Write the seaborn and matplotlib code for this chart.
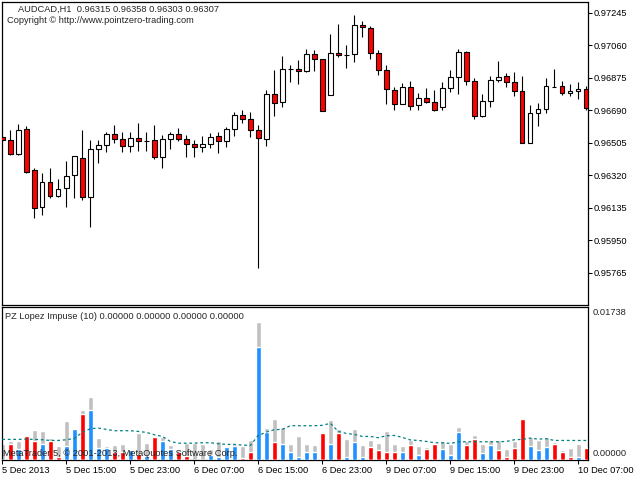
import matplotlib
matplotlib.use("Agg")
import matplotlib.pyplot as plt
import seaborn as sns
import numpy as np
import pandas as pd

# ---------------- data ----------------
opens = [0.96538, 0.96520, 0.96442, 0.96584, 0.96349, 0.96139, 0.96281, 0.96205, 0.96247, 0.96321,
         0.96417, 0.96199, 0.96468, 0.96491, 0.96554, 0.96525, 0.96486, 0.96533, 0.96518, 0.96520,
         0.96423, 0.96525, 0.96554, 0.96525, 0.96497, 0.96480, 0.96497, 0.96542, 0.96514, 0.96582,
         0.96663, 0.96641, 0.96578, 0.96525, 0.96781, 0.96736, 0.96923, 0.96923, 0.96912, 0.97010,
         0.96980, 0.96775, 0.97014, 0.97006, 0.97009, 0.97173, 0.97156, 0.97014, 0.96918, 0.96804,
         0.96724, 0.96821, 0.96719, 0.96758, 0.96736, 0.96707, 0.96815, 0.96878, 0.97020, 0.96855,
         0.96656, 0.96741, 0.96861, 0.96883, 0.96849, 0.96798, 0.96503, 0.96673, 0.96696, 0.96825,
         0.96827, 0.96787, 0.96798, 0.96810]
highs = [0.96550, 0.96578, 0.96612, 0.96601, 0.96360, 0.96334, 0.96360, 0.96300, 0.96402, 0.96430,
         0.96578, 0.96521, 0.96521, 0.96567, 0.96607, 0.96567, 0.96567, 0.96618, 0.96567, 0.96607,
         0.96550, 0.96567, 0.96590, 0.96550, 0.96521, 0.96544, 0.96561, 0.96567, 0.96595, 0.96679,
         0.96692, 0.96681, 0.96607, 0.96806, 0.96919, 0.96999, 0.96948, 0.96976, 0.97039, 0.97033,
         0.96982, 0.97126, 0.97181, 0.97061, 0.97232, 0.97198, 0.97169, 0.97033, 0.96948, 0.96821,
         0.96847, 0.96857, 0.96787, 0.96815, 0.96806, 0.96849, 0.96919, 0.97037, 0.97027, 0.96872,
         0.96781, 0.96885, 0.96970, 0.96902, 0.96908, 0.96883, 0.96719, 0.96730, 0.96872, 0.96923,
         0.96855, 0.96838, 0.96849, 0.96827]
lows = [0.96510, 0.96436, 0.96436, 0.96335, 0.96080, 0.96095, 0.96193, 0.96199, 0.96142, 0.96193,
        0.96180, 0.96028, 0.96389, 0.96455, 0.96503, 0.96455, 0.96455, 0.96461, 0.96461, 0.96412,
        0.96360, 0.96468, 0.96514, 0.96423, 0.96423, 0.96451, 0.96474, 0.96449, 0.96480, 0.96542,
        0.96616, 0.96537, 0.95794, 0.96489, 0.96659, 0.96711, 0.96853, 0.96838, 0.96906, 0.96912,
        0.96684, 0.96775, 0.96991, 0.96932, 0.96966, 0.97109, 0.96983, 0.96889, 0.96728, 0.96690,
        0.96724, 0.96690, 0.96692, 0.96730, 0.96684, 0.96690, 0.96794, 0.96781, 0.96836, 0.96639,
        0.96650, 0.96711, 0.96851, 0.96824, 0.96773, 0.96503, 0.96503, 0.96603, 0.96673, 0.96821,
        0.96775, 0.96770, 0.96753, 0.96692]
closes = [0.96521, 0.96442, 0.96578, 0.96341, 0.96133, 0.96281, 0.96205, 0.96241, 0.96315, 0.96429,
          0.96199, 0.96468, 0.96491, 0.96554, 0.96525, 0.96486, 0.96533, 0.96514, 0.96518, 0.96423,
          0.96525, 0.96554, 0.96525, 0.96497, 0.96480, 0.96497, 0.96537, 0.96514, 0.96582, 0.96663,
          0.96639, 0.96576, 0.96531, 0.96781, 0.96730, 0.96923, 0.96923, 0.96912, 0.97010, 0.96980,
          0.96684, 0.97014, 0.97003, 0.97006, 0.97173, 0.97162, 0.97014, 0.96918, 0.96810, 0.96724,
          0.96821, 0.96713, 0.96758, 0.96736, 0.96690, 0.96815, 0.96878, 0.97020, 0.96855, 0.96656,
          0.96741, 0.96861, 0.96878, 0.96849, 0.96798, 0.96503, 0.96673, 0.96696, 0.96827, 0.96825,
          0.96787, 0.96798, 0.96810, 0.96702]

impulse_total = [0.00172, 0.00209, 0.00209, 0.00278, 0.00335, 0.00324, 0.00240, 0.00152, 0.00438, 0.00343,
                 0.00560, 0.00709, 0.00240, 0.00149, 0.00160, 0.00172, 0.00114, 0.00301, 0.00186, 0.00266,
                 0.00255, 0.00160, 0.00103, 0.00183, 0.00186, 0.00172, 0.00114, 0.00206, 0.00149, 0.00180,
                 0.00157, 0.00217, 0.01566, 0.00362, 0.00457, 0.00369, 0.00172, 0.00263, 0.00172, 0.00160,
                 0.00297, 0.00446, 0.00343, 0.00229, 0.00343, 0.00160, 0.00217, 0.00183, 0.00320, 0.00172,
                 0.00149, 0.00217, 0.00149, 0.00137, 0.00183, 0.00206, 0.00172, 0.00366, 0.00206, 0.00274,
                 0.00172, 0.00217, 0.00217, 0.00114, 0.00206, 0.00457, 0.00252, 0.00217, 0.00252, 0.00194,
                 0.00103, 0.00126, 0.00172, 0.00137]
impulse_up = [0, 0, 0.00122, 0, 0, 0.00175, 0, 0, 0.00149, 0.00343,
              0, 0.00560, 0.00129, 0.00129, 0, 0, 0.00103, 0, 0.00038, 0,
              0.00209, 0.00114, 0, 0, 0, 0, 0.00046, 0.00026, 0.00137, 0.00149,
              0, 0, 0.01281, 0.00309, 0, 0.00172, 0.00091, 0.00023, 0.00080, 0.00080,
              0, 0.00172, 0, 0.00034, 0.00194, 0.00023, 0, 0, 0, 0,
              0.00091, 0, 0.00046, 0, 0, 0.00114, 0.00046, 0.00309, 0, 0,
              0.00069, 0.00160, 0, 0, 0, 0, 0.00149, 0.00103, 0.00137, 0,
              0, 0, 0.00034, 0]
impulse_down = [0, 0.00175, 0, 0.00266, 0.00209, 0, 0.00209, 0.00026, 0, 0,
                0.00518, 0, 0, 0, 0.00083, 0.00083, 0, 0.00065, 0, 0.00252,
                0, 0, 0.00080, 0.00038, 0, 0, 0, 0, 0, 0,
                0.00015, 0.00091, 0, 0, 0.00194, 0, 0, 0, 0, 0,
                0.00297, 0, 0.00305, 0, 0, 0, 0.00137, 0.00103, 0.00080, 0.00080,
                0, 0.00160, 0, 0.00114, 0.00175, 0, 0, 0, 0.00160, 0.00229,
                0, 0, 0.00103, 0.00023, 0.00126, 0.00457, 0, 0, 0, 0.00172,
                0.00080, 0.00034, 0, 0.00126]
signal = [0.00229, 0.00229, 0.00229, 0.00232, 0.00229, 0.00225, 0.00217, 0.00217, 0.00225, 0.00240,
          0.00309, 0.00351, 0.00358, 0.00343, 0.00328, 0.00328, 0.00328, 0.00320, 0.00309, 0.00282,
          0.00263, 0.00206, 0.00186, 0.00186, 0.00186, 0.00191, 0.00191, 0.00180, 0.00172, 0.00172,
          0.00164, 0.00160, 0.00274, 0.00312, 0.00340, 0.00343, 0.00385, 0.00385, 0.00385, 0.00385,
          0.00389, 0.00412, 0.00320, 0.00297, 0.00286, 0.00263, 0.00263, 0.00248, 0.00271, 0.00274,
          0.00252, 0.00223, 0.00217, 0.00206, 0.00191, 0.00191, 0.00183, 0.00202, 0.00202, 0.00202,
          0.00202, 0.00202, 0.00202, 0.00206, 0.00225, 0.00229, 0.00244, 0.00232, 0.00237, 0.00217,
          0.00217, 0.00217, 0.00217, 0.00217]

price_ticks = [0.97245, 0.97060, 0.96875, 0.96690, 0.96505, 0.96320, 0.96135, 0.95950, 0.95765]
time_tick_bars = [0, 8, 16, 24, 32, 40, 48, 56, 64, 72]
time_tick_labels = ["5 Dec 2013", "5 Dec 15:00", "5 Dec 23:00", "6 Dec 07:00", "6 Dec 15:00",
                    "6 Dec 23:00", "9 Dec 07:00", "9 Dec 15:00", "9 Dec 23:00", "10 Dec 07:00"]
impulse_top = 0.01738

# ---------------- figure ----------------
sns.set_style("white")
plt.rcParams["font.family"] = ["Liberation Sans", "DejaVu Sans"]
FS = 6.7

W, H = 640, 480
fig = plt.figure(figsize=(6.4, 4.8), dpi=100)
fig.patch.set_facecolor("white")


def box(l, t, r, b):
    return [l / W, 1 - b / H, (r - l) / W, (b - t) / H]


ax1 = fig.add_axes(box(2, 2, 587.5, 305))
ax2 = fig.add_axes(box(2, 307, 587.5, 459.5))

n = len(opens)
idx = np.arange(n)
o = np.array(opens)
c = np.array(closes)
df = pd.DataFrame({"bar": idx, "open": o, "high": highs, "low": lows, "close": c,
                   "total": impulse_total, "up": impulse_up, "down": impulse_down,
                   "signal": signal})

# candles
ax1.vlines(df["bar"], df["low"], df["high"], color="black", linewidth=0.8, zorder=2)
body_bottom = np.minimum(o, c)
body_height = np.abs(c - o)
body_colors = ["#FF0000" if cc < oo else "white" for oo, cc in zip(o, c)]
ax1.bar(df["bar"], body_height, bottom=body_bottom, width=0.55, color=body_colors,
        edgecolor="black", linewidth=0.8, zorder=3)

xl = (-0.0375, 73.15)
ax1.set_xlim(*xl)
ax1.set_ylim(0.95583, 0.97306)
ax1.set_xticks([])
ax1.yaxis.tick_right()
ax1.set_yticks(price_ticks)
ax1.set_yticklabels([f"{p:.5f}" for p in price_ticks])
ax1.tick_params(axis="y", direction="out", length=3, width=0.75, pad=1.5,
                labelsize=FS, colors="black")

# indicator
sns.barplot(data=df, x="bar", y="total", color="#C0C0C0", saturation=1, width=0.55,
            native_scale=True, errorbar=None, ax=ax2, zorder=2)
sns.barplot(data=df, x="bar", y="down", color="#FF0000", saturation=1, width=0.55,
            native_scale=True, errorbar=None, ax=ax2, zorder=3)
sns.barplot(data=df, x="bar", y="up", color="#1E90FF", saturation=1, width=0.55,
            native_scale=True, errorbar=None, ax=ax2, zorder=3)
sns.lineplot(data=df, x="bar", y="signal", color="#008080", linewidth=0.9,
             linestyle=(0, (2.2, 2.2)), ax=ax2, zorder=4)

ax2.set_xlim(*xl)
ax2.set_ylim(0, impulse_top)
ax2.set_xlabel("")
ax2.set_ylabel("")
ax2.set_yticks([])
ax2.set_xticks(time_tick_bars)
ax2.set_xticklabels(time_tick_labels, ha="left")
ax2.tick_params(axis="x", direction="out", length=3, width=0.75, pad=1.5,
                labelsize=FS, colors="black", bottom=True)

for ax in (ax1, ax2):
    ax.set_facecolor("white")
    for s in ax.spines.values():
        s.set_visible(True)
        s.set_color("black")
        s.set_linewidth(0.9)
    ax.grid(False)

# right-hand labels of indicator window
fig.text(593 / W, 1 - 312.7 / H, "0.01738", ha="left", va="center", fontsize=FS)
fig.text(593 / W, 1 - 453.3 / H, "0.00000", ha="left", va="center", fontsize=FS)

# overlay texts
fig.text(18 / W, 1 - 9.3 / H, "AUDCAD,H1  0.96315 0.96358 0.96303 0.96307",
         ha="left", va="center", fontsize=FS)
fig.text(7 / W, 1 - 20.7 / H, "Copyright \u00a9 http://www.pointzero-trading.com",
         ha="left", va="center", fontsize=FS)
fig.text(5 / W, 1 - 316.7 / H, "PZ Lopez Impuse (10) 0.00000 0.00000 0.00000 0.00000",
         ha="left", va="center", fontsize=FS)
fig.text(3 / W, 1 - 453.3 / H, "MetaTrader 5, \u00a9 2001-2013, MetaQuotes Software Corp.",
         ha="left", va="center", fontsize=FS, zorder=10)

fig.savefig("out.png", dpi=100, facecolor="white")
